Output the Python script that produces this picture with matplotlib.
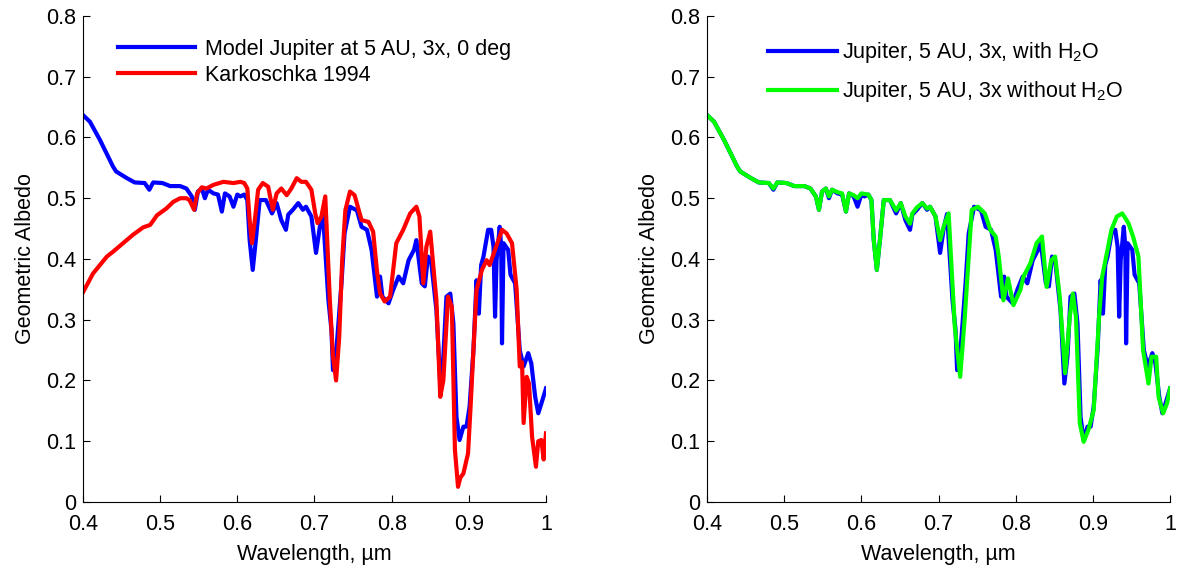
import numpy as np
import matplotlib
matplotlib.use('Agg')
from matplotlib import pyplot as plt
from matplotlib.ticker import FuncFormatter

plt.rcParams['font.family'] = ['Liberation Sans', 'DejaVu Sans']
plt.rcParams['mathtext.fontset'] = 'custom'
plt.rcParams['mathtext.rm'] = 'Liberation Sans'
plt.rcParams['mathtext.it'] = 'Liberation Sans'


# model spectrum, Jupiter at 5 AU, 3x, with H2O  (wavelength um, albedo)
model_wl = [0.400, 0.409, 0.422, 0.439, 0.443, 0.457, 0.467, 0.480, 0.486, 0.491,
            0.503, 0.513, 0.526, 0.534, 0.541, 0.545, 0.549, 0.554, 0.558, 0.562,
            0.569, 0.575, 0.580, 0.584, 0.590, 0.595, 0.600, 0.604, 0.609, 0.613,
            0.616, 0.620, 0.624, 0.629, 0.637, 0.645, 0.651, 0.657, 0.663, 0.666,
            0.672, 0.679, 0.685, 0.689, 0.696, 0.702, 0.707, 0.711, 0.718, 0.722,
            0.724, 0.727, 0.735, 0.739, 0.746, 0.755, 0.761, 0.768, 0.774, 0.781,
            0.785, 0.788, 0.796, 0.802, 0.809, 0.815, 0.822, 0.829, 0.832, 0.839,
            0.843, 0.847, 0.851, 0.858, 0.863, 0.867, 0.871, 0.876, 0.880, 0.884,
            0.888, 0.893, 0.897, 0.901, 0.906, 0.910, 0.913, 0.916, 0.919, 0.925,
            0.929, 0.932, 0.934, 0.936, 0.940, 0.942, 0.943, 0.945, 0.951, 0.954,
            0.960, 0.966, 0.971, 0.977, 0.981, 0.986, 0.990, 0.994, 1.000]
model_alb = [0.637, 0.626, 0.596, 0.552, 0.544, 0.533, 0.526, 0.525, 0.514, 0.526,
             0.525, 0.520, 0.520, 0.516, 0.503, 0.481, 0.511, 0.516, 0.500, 0.514,
             0.508, 0.506, 0.478, 0.508, 0.503, 0.486, 0.506, 0.503, 0.506, 0.497,
             0.431, 0.382, 0.431, 0.497, 0.497, 0.475, 0.492, 0.464, 0.448, 0.473,
             0.481, 0.492, 0.481, 0.486, 0.470, 0.410, 0.453, 0.474, 0.333, 0.283,
             0.217, 0.227, 0.360, 0.442, 0.486, 0.480, 0.453, 0.448, 0.415, 0.338,
             0.371, 0.338, 0.327, 0.349, 0.371, 0.360, 0.398, 0.415, 0.431, 0.360,
             0.355, 0.404, 0.398, 0.316, 0.195, 0.239, 0.338, 0.343, 0.294, 0.140,
             0.102, 0.124, 0.124, 0.157, 0.250, 0.365, 0.310, 0.390, 0.404, 0.448,
             0.448, 0.420, 0.305, 0.398, 0.453, 0.420, 0.261, 0.426, 0.415, 0.374,
             0.360, 0.250, 0.223, 0.245, 0.228, 0.173, 0.146, 0.162, 0.187]

# Karkoschka 1994 measured albedo
kark_wl = [0.400, 0.413, 0.431, 0.439, 0.452, 0.465, 0.478, 0.487, 0.496, 0.508,
           0.517, 0.526, 0.534, 0.538, 0.544, 0.548, 0.554, 0.560, 0.569, 0.582,
           0.595, 0.604, 0.609, 0.613, 0.616, 0.619, 0.623, 0.627, 0.633, 0.640,
           0.646, 0.651, 0.657, 0.664, 0.670, 0.677, 0.683, 0.689, 0.696, 0.701,
           0.704, 0.709, 0.714, 0.720, 0.724, 0.728, 0.732, 0.736, 0.740, 0.746,
           0.752, 0.761, 0.770, 0.776, 0.781, 0.785, 0.791, 0.798, 0.806, 0.815,
           0.824, 0.832, 0.836, 0.841, 0.845, 0.850, 0.858, 0.863, 0.867, 0.873,
           0.878, 0.882, 0.886, 0.889, 0.893, 0.899, 0.902, 0.906, 0.910, 0.917,
           0.923, 0.927, 0.934, 0.943, 0.949, 0.956, 0.962, 0.966, 0.969, 0.971,
           0.975, 0.978, 0.982, 0.987, 0.990, 0.994, 0.997, 1.000]
kark_alb = [0.345, 0.376, 0.404, 0.412, 0.426, 0.440, 0.452, 0.456, 0.472, 0.483,
            0.494, 0.500, 0.500, 0.497, 0.481, 0.508, 0.518, 0.516, 0.522, 0.527,
            0.525, 0.527, 0.525, 0.516, 0.464, 0.426, 0.467, 0.514, 0.525, 0.519,
            0.481, 0.508, 0.516, 0.505, 0.516, 0.533, 0.527, 0.527, 0.514, 0.475,
            0.459, 0.470, 0.503, 0.330, 0.240, 0.200, 0.270, 0.400, 0.480, 0.511,
            0.505, 0.464, 0.461, 0.445, 0.380, 0.343, 0.330, 0.338, 0.426, 0.448,
            0.475, 0.486, 0.470, 0.360, 0.420, 0.445, 0.332, 0.173, 0.200, 0.338,
            0.321, 0.086, 0.025, 0.040, 0.047, 0.080, 0.150, 0.250, 0.349, 0.382,
            0.398, 0.390, 0.415, 0.448, 0.442, 0.426, 0.349, 0.223, 0.230, 0.130,
            0.206, 0.195, 0.107, 0.058, 0.100, 0.102, 0.070, 0.113]

# model without H2O
dry_wl = [0.400, 0.409, 0.422, 0.439, 0.443, 0.457, 0.467, 0.480, 0.486, 0.491,
          0.503, 0.513, 0.526, 0.534, 0.541, 0.545, 0.549, 0.554, 0.558, 0.562,
          0.569, 0.575, 0.580, 0.584, 0.590, 0.595, 0.600, 0.609, 0.613, 0.616,
          0.620, 0.624, 0.629, 0.637, 0.645, 0.651, 0.657, 0.663, 0.666, 0.672,
          0.679, 0.685, 0.689, 0.696, 0.702, 0.707, 0.713, 0.721, 0.728, 0.734,
          0.743, 0.751, 0.760, 0.767, 0.774, 0.778, 0.784, 0.790, 0.797, 0.806,
          0.810, 0.819, 0.827, 0.834, 0.840, 0.846, 0.851, 0.857, 0.864, 0.870,
          0.874, 0.878, 0.883, 0.888, 0.894, 0.901, 0.908, 0.912, 0.918, 0.924,
          0.931, 0.938, 0.946, 0.952, 0.959, 0.965, 0.972, 0.976, 0.982, 0.985,
          0.991, 0.996, 1.000]
dry_alb = [0.637, 0.626, 0.596, 0.552, 0.544, 0.533, 0.526, 0.525, 0.516, 0.526,
           0.525, 0.520, 0.520, 0.516, 0.503, 0.481, 0.511, 0.516, 0.503, 0.514,
           0.510, 0.508, 0.478, 0.508, 0.505, 0.500, 0.508, 0.506, 0.497, 0.431,
           0.382, 0.431, 0.497, 0.497, 0.480, 0.492, 0.470, 0.458, 0.475, 0.485,
           0.492, 0.483, 0.486, 0.470, 0.431, 0.455, 0.475, 0.289, 0.206, 0.305,
           0.481, 0.486, 0.475, 0.448, 0.437, 0.404, 0.332, 0.368, 0.324, 0.349,
           0.371, 0.393, 0.426, 0.437, 0.354, 0.398, 0.404, 0.338, 0.212, 0.305,
           0.343, 0.305, 0.130, 0.099, 0.118, 0.151, 0.305, 0.371, 0.409, 0.448,
           0.470, 0.475, 0.459, 0.437, 0.404, 0.250, 0.195, 0.239, 0.239, 0.173,
           0.146, 0.162, 0.187]

FS = 15.5


def style_axes(ax):
    ax.set_xlim(0.4, 1.0)
    ax.set_ylim(0, 0.8)
    ax.set_xticks(np.arange(0.4, 1.01, 0.1))
    ax.set_yticks(np.arange(0, 0.81, 0.1))
    fmt = FuncFormatter(lambda v, p: '%g' % round(v, 2))
    ax.xaxis.set_major_formatter(fmt)
    ax.yaxis.set_major_formatter(fmt)
    ax.spines['top'].set_visible(False)
    ax.spines['right'].set_visible(False)
    ax.tick_params(direction='in', length=5, labelsize=FS)
    ax.tick_params(axis='x', pad=9)
    ax.tick_params(axis='y', pad=5)
    ax.set_xlabel('Wavelength, \u00b5m', fontsize=FS, labelpad=6)
    ax.set_ylabel('Geometric Albedo', fontsize=FS, labelpad=7)


fig = plt.figure(figsize=(11.8, 5.69), dpi=100)
fig.patch.set_facecolor('white')

ax1 = fig.add_axes([0.0703, 0.1178, 0.3924, 0.8541])
ax1.plot(model_wl, model_alb, color=(0, 0, 1), lw=3, label='Model Jupiter at 5 AU, 3x, 0 deg')
ax1.plot(kark_wl, kark_alb, color=(1, 0, 0), lw=3, label='Karkoschka 1994')
style_axes(ax1)
ax1.legend(loc='upper left', bbox_to_anchor=(0.0756, 0.953), frameon=False, fontsize=FS,
           borderpad=0, borderaxespad=0, handlelength=3.6, handletextpad=0.45,
           labelspacing=0.22)

ax2 = fig.add_axes([0.5992, 0.1178, 0.3924, 0.8541])
ax2.plot(model_wl, model_alb, color=(0, 0, 1), lw=3, label='Jupiter, 5 AU, 3x, with H$_2$O')
ax2.plot(dry_wl, dry_alb, color=(0, 1, 0), lw=3, label='Jupiter, 5 AU, 3x without H$_2$O')
style_axes(ax2)
ax2.legend(loc='upper left', bbox_to_anchor=(0.132, 0.95), frameon=False, fontsize=FS,
           borderpad=0, borderaxespad=0, handlelength=3.2, handletextpad=0.25,
           labelspacing=0.64)

fig.savefig('out.png', dpi=100)
